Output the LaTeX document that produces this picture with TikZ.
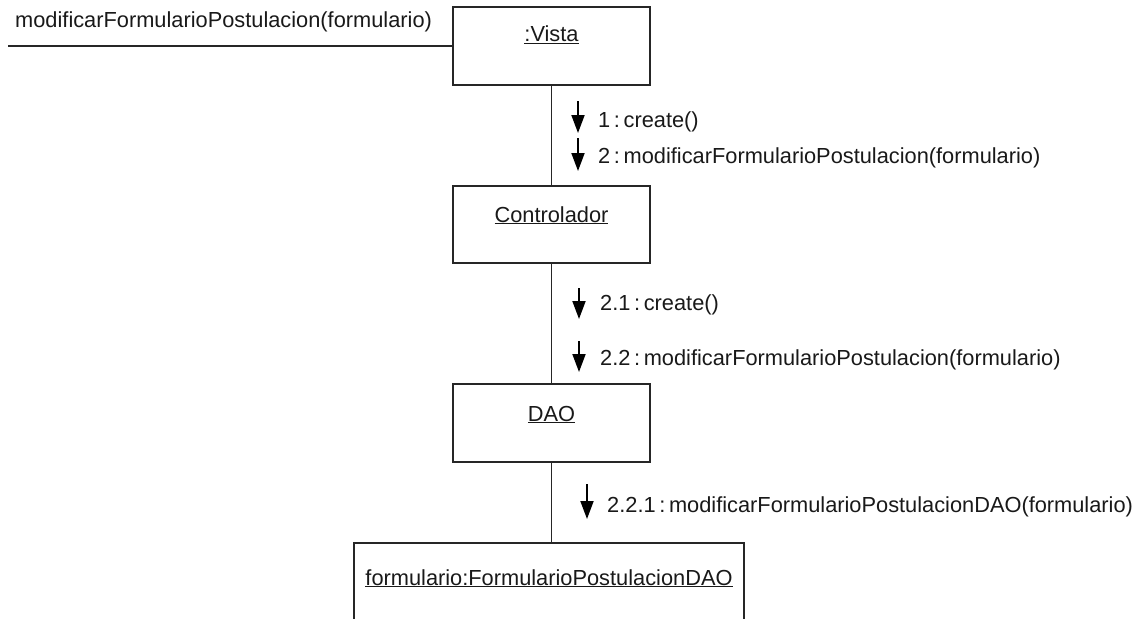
\documentclass[tikz,border=0pt]{standalone}
\usepackage{fontspec}
\setmainfont{Liberation Sans}
\usetikzlibrary{arrows.meta}
\begin{document}
\begin{tikzpicture}[x=1pt,y=-1pt,
  obj/.style={draw=black!85, line width=1.6pt, minimum width=197pt, minimum height=78pt, inner sep=0pt},
  txt/.style={font=\fontsize{21.8}{26}\selectfont, inner sep=0pt, text=black!90},
  link/.style={draw=black!85, line width=1.5pt},
  msg/.style={line width=1.9pt, -{Triangle[length=18pt,width=13pt]}},
]
\useasboundingbox (0,0) rectangle (1145,618);
\clip (0,0) rectangle (1145,618);

% object boxes
\node[obj] (vista) at (551.5,46) {};
\node[obj, minimum height=77pt] (ctrl) at (551.5,224.5) {};
\node[obj] (dao) at (551.5,423) {};
\node[obj, minimum width=390pt, minimum height=94pt] (form) at (549,590) {};

% object names
\node[txt, anchor=base] (vistaT) at (551.5,42) {\underline{:Vista}};
\node[txt, anchor=base] (ctrlT) at (551.5,222) {\underline{Controlador}};
\node[txt, anchor=base] (daoT) at (551.5,421) {\underline{DAO}};
\node[txt, anchor=base] (formT) at (549,585) {\underline{formulario:FormularioPostulacionDAO}};

% links between objects
\coordinate (start) at (8,46);
\draw[link] (start) -- (vista.west);
\draw[link] (vista.south) -- (ctrl.north);
\draw[link] (ctrl.south) -- (dao.north);
\draw[link] (dao.south) -- (dao.south |- form.north);

% incoming message
\node[txt, anchor=base west] (m0) at (15,28) {modificarFormularioPostulacion(formulario)};

% messages Vista -> Controlador
\coordinate (a1s) at (578,101); \coordinate (a1e) at (578,133);
\draw[msg] (a1s) -- (a1e);
\node[txt, anchor=base west] (m1) at (598,127) {1\,:\,create()};
\coordinate (a2s) at (578,138); \coordinate (a2e) at (578,171);
\draw[msg] (a2s) -- (a2e);
\node[txt, anchor=base west] (m2) at (598,163) {2\,:\,modificarFormularioPostulacion(formulario)};

% messages Controlador -> DAO
\coordinate (a3s) at (579,288); \coordinate (a3e) at (579,319);
\draw[msg] (a3s) -- (a3e);
\node[txt, anchor=base west] (m3) at (600,310) {2.1\,:\,create()};
\coordinate (a4s) at (579,341); \coordinate (a4e) at (579,372);
\draw[msg] (a4s) -- (a4e);
\node[txt, anchor=base west] (m4) at (600,365) {2.2\,:\,modificarFormularioPostulacion(formulario)};

% message DAO -> formulario
\coordinate (a5s) at (587,484); \coordinate (a5e) at (587,519);
\draw[msg] (a5s) -- (a5e);
\node[txt, anchor=base west] (m5) at (607,512) {2.2.1\,:\,modificarFormularioPostulacionDAO(formulario)};
\end{tikzpicture}
\end{document}
